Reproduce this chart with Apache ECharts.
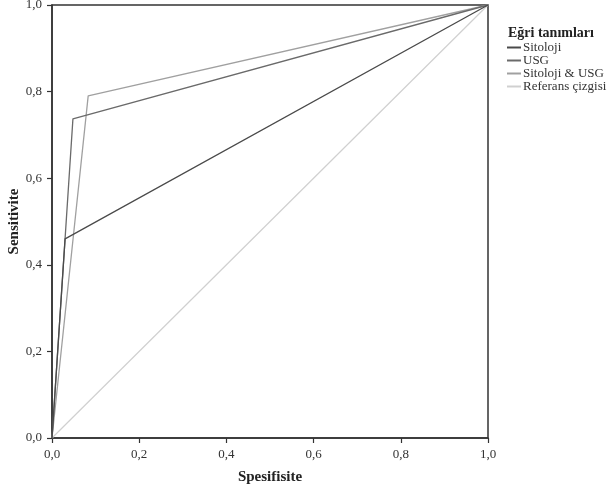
<!DOCTYPE html>
<html>
<head>
<meta charset="utf-8">
<script src="https://cdn.jsdelivr.net/npm/echarts@6/dist/echarts.min.js"></script>
<style>html,body{margin:0;padding:0;background:#fff}#c{width:609px;height:492px}</style>
</head>
<body>
<div id="c"></div>
<script>
const seriesNames = ['Sitoloji', 'USG', 'Sitoloji & USG', 'Referans çizgisi'];
const sitolojiX = [0, 0.03, 1];
const sitolojiY = [0, 0.46, 1];
const usgX = [0, 0.048, 1];
const usgY = [0, 0.737, 1];
const bothX = [0, 0.083, 1];
const bothY = [0, 0.79, 1];
const refX = [0, 1];
const refY = [0, 1];
const xTicks = [0, 0.2, 0.4, 0.6, 0.8, 1.0];
const yTicks = [0, 0.2, 0.4, 0.6, 0.8, 1.0];

const colors = ['#4a4a4a', '#6a6a6a', '#a0a0a0', '#d0d0d0'];
const font = '"Liberation Serif", "DejaVu Serif", serif';
const pair = (xs, ys) => xs.map((x, i) => [x, ys[i]]);
const fmt = v => v.toFixed(1).replace('.', ',');

const chart = echarts.init(document.getElementById('c'));
const axisCommon = {
  type: 'value', min: 0, max: 1, interval: 0.2,
  axisLine: { show: true, lineStyle: { color: '#333', width: 1.5 } },
  axisTick: { show: true, length: 5, lineStyle: { color: '#333', width: 1.2 } },
  splitLine: { show: false },
  nameLocation: 'middle',
  nameMoveOverlap: false,
  nameTextStyle: { fontFamily: font, fontWeight: 'bold', fontSize: 15, color: '#222' }
};
chart.setOption({
  animation: false,
  grid: { left: 52, right: 121, top: 5, bottom: 54, containLabel: false, outerBoundsMode: 'none', show: true, borderColor: '#333', borderWidth: 1.5, backgroundColor: 'transparent' },
  title: {
    text: 'Eğri tanımları', left: 503, top: 21,
    textStyle: { fontFamily: font, fontWeight: 'bold', fontSize: 14, color: '#222' }
  },
  legend: {
    data: seriesNames, orient: 'vertical', left: 507, top: 41,
    itemWidth: 14, itemHeight: 2, itemGap: 0, icon: 'rect', padding: 0,
    textStyle: { fontFamily: font, fontSize: 13, lineHeight: 12.7, color: '#333', padding: [0, 0, 0, -3] }
  },
  xAxis: Object.assign({}, axisCommon, {
    name: 'Spesifisite', nameGap: 32,
    axisLabel: { margin: 10, fontFamily: font, fontSize: 13, color: '#333', formatter: v => fmt(v), customValues: xTicks }
  }),
  yAxis: Object.assign({}, axisCommon, {
    name: 'Sensitivite', nameGap: 30,
    axisLabel: { margin: 10, fontFamily: font, fontSize: 13, color: '#333', formatter: v => fmt(v), customValues: yTicks }
  }),
  series: [
    { name: seriesNames[0], type: 'line', data: pair(sitolojiX, sitolojiY), symbol: 'none', lineStyle: { color: colors[0], width: 1.3 }, itemStyle: { color: colors[0] }, z: 5 },
    { name: seriesNames[1], type: 'line', data: pair(usgX, usgY), symbol: 'none', lineStyle: { color: colors[1], width: 1.3 }, itemStyle: { color: colors[1] }, z: 4 },
    { name: seriesNames[2], type: 'line', data: pair(bothX, bothY), symbol: 'none', lineStyle: { color: colors[2], width: 1.3 }, itemStyle: { color: colors[2] }, z: 3 },
    { name: seriesNames[3], type: 'line', data: pair(refX, refY), symbol: 'none', lineStyle: { color: colors[3], width: 1.2 }, itemStyle: { color: colors[3] }, z: 2 }
  ]
});
</script>
</body>
</html>
